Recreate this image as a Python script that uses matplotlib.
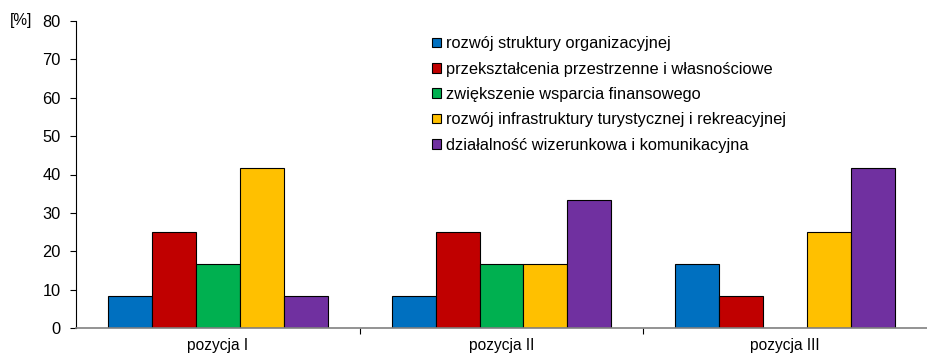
import numpy as np
import matplotlib.pyplot as plt

plt.rcParams['font.family'] = ['Liberation Sans', 'DejaVu Sans']

positions = ['pozycja I', 'pozycja II', 'pozycja III']
series = [
    'rozwój struktury organizacyjnej',
    'przekształcenia przestrzenne i własnościowe',
    'zwiększenie wsparcia finansowego',
    'rozwój infrastruktury turystycznej i rekreacyjnej',
    'działalność wizerunkowa i komunikacyjna',
]
struktura = [8.33, 8.33, 16.67]
przeksztalcenia = [25.0, 25.0, 8.33]
wsparcie = [16.67, 16.67, 0.0]
infrastruktura = [41.67, 16.67, 25.0]
wizerunek = [8.33, 33.33, 41.67]
colors = ['#0070C0', '#C00000', '#00B050', '#FFC000', '#7030A0']

values = [struktura, przeksztalcenia, wsparcie, infrastruktura, wizerunek]

fig = plt.figure(figsize=(9.27, 3.58), dpi=100)
ax = fig.add_axes([76 / 927, 1 - 328 / 358, 851 / 927, 307 / 358])

x = np.arange(len(positions))
width = 0.155
for i, (vals, name, c) in enumerate(zip(values, series, colors)):
    offs = (i - 2) * width
    ax.bar(x + offs, vals, width, color=c, edgecolor='black', linewidth=0.8,
           label=name)

ax.set_xlim(-0.5, 2.5)
ax.set_ylim(0, 80)
ax.set_yticks(range(0, 81, 10))
ax.set_xticks([0.5, 1.5])
ax.set_xticklabels([])
ax.set_xticks(x, minor=True)
ax.set_xticklabels(positions, minor=True)
ax.tick_params(axis='x', which='minor', length=0, pad=7, labelsize=11.2)
ax.tick_params(axis='x', which='major', length=4, color='black', width=0.8)
ax.tick_params(axis='y', length=4, width=0.8, labelsize=11.8, pad=7)

for s in ['top', 'right']:
    ax.spines[s].set_visible(False)
ax.spines['left'].set_linewidth(0.8)
ax.spines['bottom'].set_color('#808080')
ax.spines['bottom'].set_linewidth(1.2)

fig.text(10 / 927, 1 - 21 / 358, '[%]', fontsize=11.2, va='center', ha='left')

ax.legend(loc='upper left', bbox_to_anchor=(0.418, 0.95), frameon=False,
          fontsize=11.8, handlelength=0.55, handleheight=0.55,
          handletextpad=0.3, labelspacing=0.63, borderpad=0,
          borderaxespad=0)

fig.savefig('out.png', dpi=100)
